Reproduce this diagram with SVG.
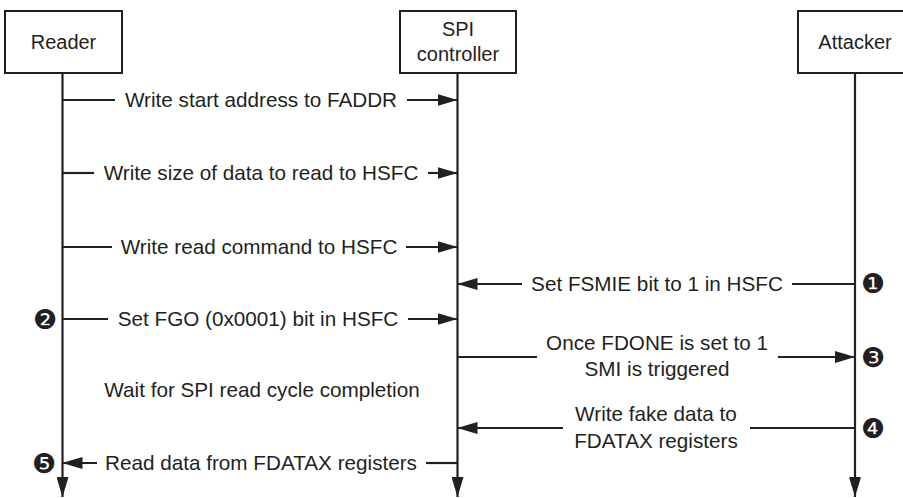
<svg xmlns="http://www.w3.org/2000/svg" width="903" height="498" viewBox="0 0 903 498">
<defs>
<marker id="ah" viewBox="0 0 20 12" refX="20" refY="6" markerWidth="20" markerHeight="12" markerUnits="userSpaceOnUse" orient="auto">
<path d="M0,0 L20,6 L0,12 Z" fill="#231f20"/>
</marker>
</defs>
<style>
.box{fill:#fff;stroke:#231f20;stroke-width:2}
.ln{stroke:#231f20;stroke-width:2.2;fill:none}
.t{font-family:"Liberation Sans","DejaVu Sans",sans-serif;font-size:20.7px;fill:#231f20;text-anchor:middle}
.bt{font-family:"Liberation Sans","DejaVu Sans",sans-serif;font-size:20px;fill:#231f20;text-anchor:middle}
.b{font-family:"DejaVu Sans",sans-serif;font-size:27px;fill:#231f20;text-anchor:middle}
</style>
<rect width="903" height="498" fill="#fff"/>
<g id="reader">
<rect class="box" x="5" y="11" width="117" height="62"/>
<text class="bt" x="63.5" y="49">Reader</text>
</g>
<g id="spi">
<rect class="box" x="400" y="11" width="116" height="62"/>
<text class="bt" x="458" y="36">SPI</text>
<text class="bt" x="458" y="61">controller</text>
</g>
<g id="attacker">
<rect class="box" x="798" y="11" width="110" height="62"/>
<text class="bt" x="855" y="49">Attacker</text>
</g>
<g id="connectors">
<line class="ln" x1="62.5" y1="73" x2="62.5" y2="497" marker-end="url(#ah)"/>
<line class="ln" x1="457.5" y1="73" x2="457.5" y2="497" marker-end="url(#ah)"/>
<line class="ln" x1="855" y1="73" x2="855" y2="497" marker-end="url(#ah)"/>

<line class="ln" x1="62.5" y1="100" x2="115" y2="100"/>
<line class="ln" x1="407" y1="100" x2="457.5" y2="100" marker-end="url(#ah)"/>
<text class="t" x="261" y="107">Write start address to FADDR</text>

<line class="ln" x1="62.5" y1="173" x2="94" y2="173"/>
<line class="ln" x1="428" y1="173" x2="457.5" y2="173" marker-end="url(#ah)"/>
<text class="t" x="261" y="180">Write size of data to read to HSFC</text>

<line class="ln" x1="62.5" y1="247" x2="112" y2="247"/>
<line class="ln" x1="406" y1="247" x2="457.5" y2="247" marker-end="url(#ah)"/>
<text class="t" x="259" y="254">Write read command to HSFC</text>

<line class="ln" x1="855" y1="284" x2="792" y2="284"/>
<line class="ln" x1="522" y1="284" x2="457.5" y2="284" marker-end="url(#ah)"/>
<text class="t" x="657" y="291">Set FSMIE bit to 1 in HSFC</text>
<text class="b" x="873" y="293">❶</text>

<line class="ln" x1="62.5" y1="319" x2="108" y2="319"/>
<line class="ln" x1="408" y1="319" x2="457.5" y2="319" marker-end="url(#ah)"/>
<text class="t" x="258" y="326">Set FGO (0x0001) bit in HSFC</text>
<text class="b" x="45" y="329">❷</text>

<line class="ln" x1="457.5" y1="357" x2="537" y2="357"/>
<line class="ln" x1="778" y1="357" x2="855" y2="357" marker-end="url(#ah)"/>
<text class="t" x="657" y="350">Once FDONE is set to 1</text>
<text class="t" x="657" y="376">SMI is triggered</text>
<text class="b" x="873" y="367">❸</text>

<text class="t" x="262" y="397">Wait for SPI read cycle completion</text>

<line class="ln" x1="855" y1="428" x2="750" y2="428"/>
<line class="ln" x1="563" y1="428" x2="457.5" y2="428" marker-end="url(#ah)"/>
<text class="t" x="656" y="421">Write fake data to</text>
<text class="t" x="656" y="448">FDATAX registers</text>
<text class="b" x="873" y="438">❹</text>

<line class="ln" x1="457.5" y1="463" x2="426" y2="463"/>
<line class="ln" x1="97" y1="463" x2="62.5" y2="463" marker-end="url(#ah)"/>
<text class="t" x="261" y="470">Read data from FDATAX registers</text>
<text class="b" x="44" y="473">❺</text>
</g>
</svg>
